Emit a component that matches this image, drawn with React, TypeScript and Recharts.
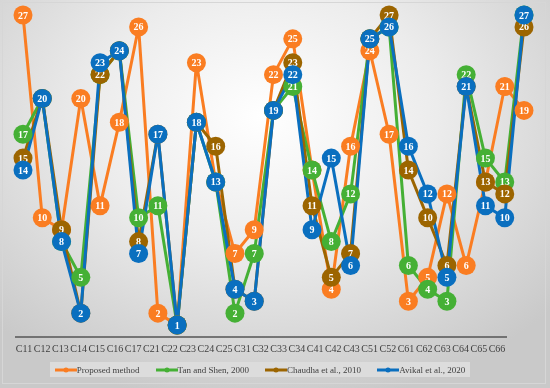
import React from 'react';
import { LineChart, Line, XAxis, YAxis, Legend } from 'recharts';

const categories = ['C11', 'C12', 'C13', 'C14', 'C15', 'C16', 'C17', 'C21', 'C22', 'C23', 'C24', 'C25', 'C31', 'C32', 'C33', 'C34', 'C41', 'C42', 'C43', 'C51', 'C52', 'C61', 'C62', 'C63', 'C64', 'C65', 'C66'];

const proposed = [27, 10, 9, 20, 11, 18, 26, 2, 1, 23, 13, 7, 9, 22, 25, 14, 4, 16, 24, 17, 3, 5, 12, 6, 13, 21, 19];
const tanShen = [17, 20, 8, 5, 22, 24, 10, 11, 1, 18, 13, 2, 7, 19, 21, 14, 8, 12, 25, 26, 6, 4, 3, 22, 15, 13, 27];
const chaudha = [15, 20, 9, 2, 22, 24, 8, 17, 1, 18, 16, 4, 3, 19, 23, 11, 5, 7, 25, 27, 14, 10, 6, 21, 13, 12, 26];
const avikal = [14, 20, 8, 2, 23, 24, 7, 17, 1, 18, 13, 4, 3, 19, 22, 9, 15, 6, 25, 26, 16, 12, 5, 21, 11, 10, 27];

const series = [
  { key: 'proposed', name: 'Proposed method', color: '#FA7D22' },
  { key: 'tanShen', name: 'Tan and Shen, 2000', color: '#45B035' },
  { key: 'chaudha', name: 'Chaudha et al., 2010', color: '#9C6500' },
  { key: 'avikal', name: 'Avikal et al., 2020', color: '#0A6FBF' },
];

const data = categories.map((c, i) => ({
  name: c,
  proposed: proposed[i],
  tanShen: tanShen[i],
  chaudha: chaudha[i],
  avikal: avikal[i],
}));

const FONT = '"Liberation Serif", "Times New Roman", serif';

// labelled circle marker, like the Excel data labels sitting on the markers
const makeDot = (color: string, dataKey: string) => (props: any) => {
  const { cx, cy, payload, index } = props;
  if (cx == null || cy == null) return <g key={`d-${dataKey}-${index}`} />;
  return (
    <g key={`d-${dataKey}-${index}`}>
      <circle cx={cx} cy={cy} r={9.5} fill={color} />
      <text
        x={cx}
        y={cy + 3.5}
        textAnchor="middle"
        fill="#fff"
        fontSize={10}
        fontWeight="bold"
        fontFamily={FONT}
      >
        {payload[dataKey]}
      </text>
    </g>
  );
};

function LegendBox() {
  return (
    <div
      style={{
        display: 'flex',
        alignItems: 'center',
        justifyContent: 'center',
        gap: 16,
        background: '#dcdcdc',
        width: 420,
        height: 15,
        marginLeft: 50,
        fontFamily: FONT,
        fontSize: 9,
        color: '#404040',
        whiteSpace: 'nowrap',
      }}
    >
      {series.map(s => (
        <div key={s.key} style={{ display: 'flex', alignItems: 'center' }}>
          <svg width={22} height={8} style={{ display: 'block' }}>
            <line x1={0} y1={4} x2={22} y2={4} stroke={s.color} strokeWidth={3} />
            <circle cx={11} cy={4} r={2.5} fill={s.color} />
          </svg>
          <span>{s.name}</span>
        </div>
      ))}
    </div>
  );
}

export default function App() {
  return (
    <div
      style={{
        position: 'fixed',
        left: 0,
        top: 0,
        width: 550,
        height: 388,
        background: 'radial-gradient(ellipse 70% 75% at 48% 30%, #ffffff 0%, #ececec 45%, #c9c9c9 100%)',
      }}
    >
      <div
        style={{
          position: 'absolute',
          left: 2,
          top: 2,
          width: 544,
          height: 382,
          border: '1px solid #d6d6d6',
          boxSizing: 'border-box',
        }}
      />
      <LineChart
        width={550}
        height={388}
        data={data}
        margin={{ top: 15, left: 15, right: 43, bottom: 11 }}
        style={{ position: 'absolute', left: 0, top: 0 }}
      >
        <XAxis
          xAxisId="labels"
          dataKey="name"
          interval={0}
          height={25}
          tickLine={false}
          axisLine={{ stroke: '#555', strokeWidth: 1.5 }}
          padding={{ left: 9, right: 10 }}
          tick={{ fill: '#404040', fontSize: 10, fontFamily: FONT }}
        />
        <XAxis xAxisId="pts" dataKey="name" hide padding={{ left: 8, right: -17 }} />
        <YAxis hide domain={[0, 27]} />
        <Legend
          verticalAlign="bottom"
          height={15}
          wrapperStyle={{ width: 550, left: 0 }}
          content={() => <LegendBox />}
        />
        {series.map(s => (
          <Line
            key={s.key}
            xAxisId="pts"
            type="linear"
            dataKey={s.key}
            name={s.name}
            stroke={s.color}
            strokeWidth={3}
            dot={makeDot(s.color, s.key)}
            activeDot={false}
            isAnimationActive={false}
          />
        ))}
      </LineChart>
    </div>
  );
}
